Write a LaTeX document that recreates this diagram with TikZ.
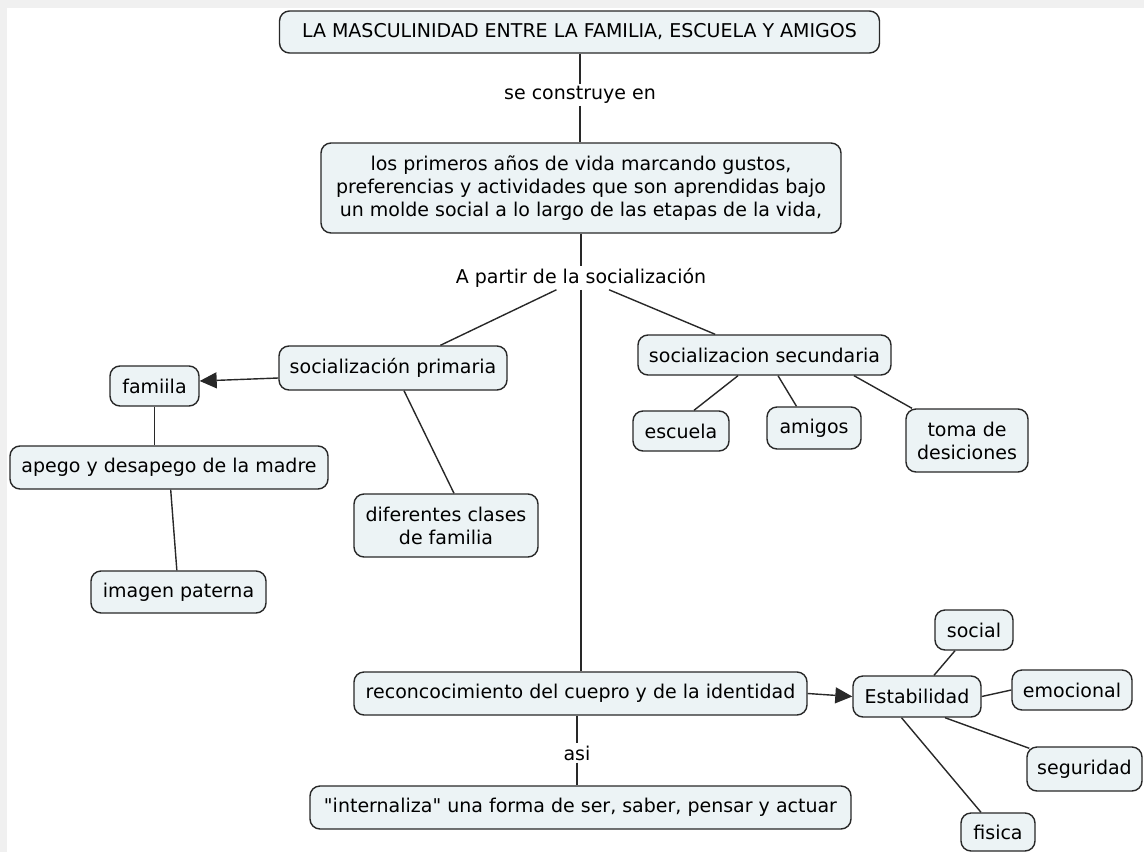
\documentclass[tikz,border=0pt]{standalone}
\usepackage{fontspec}
\newfontfamily\dvs{DejaVu Sans}
\usetikzlibrary{arrows.meta}
\definecolor{boxfill}{RGB}{236,243,245}
\definecolor{boxline}{RGB}{40,40,40}
\definecolor{stripgray}{RGB}{240,240,240}
\tikzset{
  cbox/.style={draw=boxline, line width=1.4pt, fill=boxfill, rounded corners=10pt,
    align=center, inner sep=0pt, font=\dvs\fontsize{19}{23}\selectfont},
  clabel/.style={inner sep=2pt, font=\dvs\fontsize{19}{23}\selectfont},
  conn/.style={draw=boxline, line width=1.4pt},
  carrow/.style={conn, -{Triangle[length=17pt,width=16pt]}}
}
\begin{document}
\begin{tikzpicture}[x=1pt,y=-1pt]
\useasboundingbox (0,0) rectangle (1144,852);
\fill[white] (0,0) rectangle (1144,852);
\fill[stripgray] (0,0) rectangle (1144,8);
\fill[stripgray] (0,0) rectangle (7,852);

\node[cbox, minimum width=600pt, minimum height=42pt] (title) at (579.5,32) {LA MASCULINIDAD ENTRE LA FAMILIA, ESCUELA Y AMIGOS};
\node[clabel] (secons) at (580,95) {se construye en};
\node[cbox, minimum width=520pt, minimum height=90pt] (primeros) at (581,188) {los primeros años de vida marcando gustos,\\preferencias y actividades que son aprendidas bajo\\un molde social a lo largo de las etapas de la vida,};
\node[clabel] (apartir) at (581,278) {A partir de la socialización};

\node[cbox, minimum width=228pt, minimum height=44pt] (socprim) at (393,368) {socialización primaria};
\node[cbox, minimum width=89pt, minimum height=40pt] (famiila) at (154.5,386) {famiila};
\node[cbox, minimum width=318pt, minimum height=43pt] (apego) at (169,467.5) {apego y desapego de la madre};
\node[cbox, minimum width=175pt, minimum height=42pt] (imagen) at (178.5,592) {imagen paterna};
\node[cbox, minimum width=184pt, minimum height=63pt] (diferentes) at (446,525.5) {diferentes clases\\de familia};

\node[cbox, minimum width=253pt, minimum height=40pt] (socsec) at (764.5,355) {socializacion secundaria};
\node[cbox, minimum width=96pt, minimum height=40pt] (escuela) at (681,431) {escuela};
\node[cbox, minimum width=94pt, minimum height=42pt] (amigos) at (814,428) {amigos};
\node[cbox, minimum width=122pt, minimum height=63pt] (toma) at (967,440.5) {toma de\\desiciones};

\node[cbox, minimum width=453pt, minimum height=43pt] (reconoc) at (580.5,693.5) {reconcocimiento del cuepro y de la identidad};
\node[cbox, minimum width=128pt, minimum height=41pt] (estab) at (917,696.5) {Estabilidad};
\node[cbox, minimum width=78pt, minimum height=40pt] (social) at (974,630) {social};
\node[cbox, minimum width=120pt, minimum height=40pt] (emocional) at (1072,690) {emocional};
\node[cbox, minimum width=115pt, minimum height=44pt] (seguridad) at (1084.5,769) {seguridad};
\node[cbox, minimum width=74pt, minimum height=38pt] (fisica) at (998,832) {fisica};

\node[clabel] (asi) at (577,753) {asi};
\node[cbox, minimum width=541pt, minimum height=43pt] (internaliza) at (580.5,807.5) {"internaliza" una forma de ser, saber, pensar y actuar};

% connectors
\draw[conn] (title.south -| secons) -- (secons);
\draw[conn] (secons) -- (secons |- primeros.north);
\draw[conn] (primeros.south -| apartir) -- (apartir);
\draw[conn] (apartir) -- (socprim);
\draw[conn] (apartir) -- (socsec);
\draw[conn] (apartir) -- (apartir |- reconoc.north);

\draw[carrow] ([yshift=-10pt]socprim.west) -- ([yshift=5pt]famiila.east);
\draw[conn] (famiila.south) -- (famiila.south |- apego.north);
\draw[conn] (apego) -- (imagen);
\draw[conn] ([xshift=11pt]socprim.south) -- ([xshift=8pt]diferentes.north);

\draw[conn] ([xshift=-26.5pt]socsec.south) -- ([xshift=13pt]escuela.north);
\draw[conn] ([xshift=13.5pt]socsec.south) -- ([xshift=-17.5pt]amigos.north);
\draw[conn] ([xshift=89.5pt]socsec.south) -- ([xshift=-55pt]toma.north);

\draw[carrow] (reconoc.east) -- (estab.west);
\draw[conn] ([xshift=17pt]estab.north) -- ([xshift=-19pt]social.south);
\draw[conn] (estab.east) -- (emocional.west);
\draw[conn] ([xshift=28pt]estab.south) -- ([xshift=3pt,yshift=-2pt]seguridad.north west);
\draw[conn] ([xshift=-15.5pt]estab.south) -- ([xshift=-17pt]fisica.north);

\draw[conn] (reconoc.south -| asi) -- (asi);
\draw[conn] (asi) -- (asi |- internaliza.north);
\end{tikzpicture}
\end{document}
